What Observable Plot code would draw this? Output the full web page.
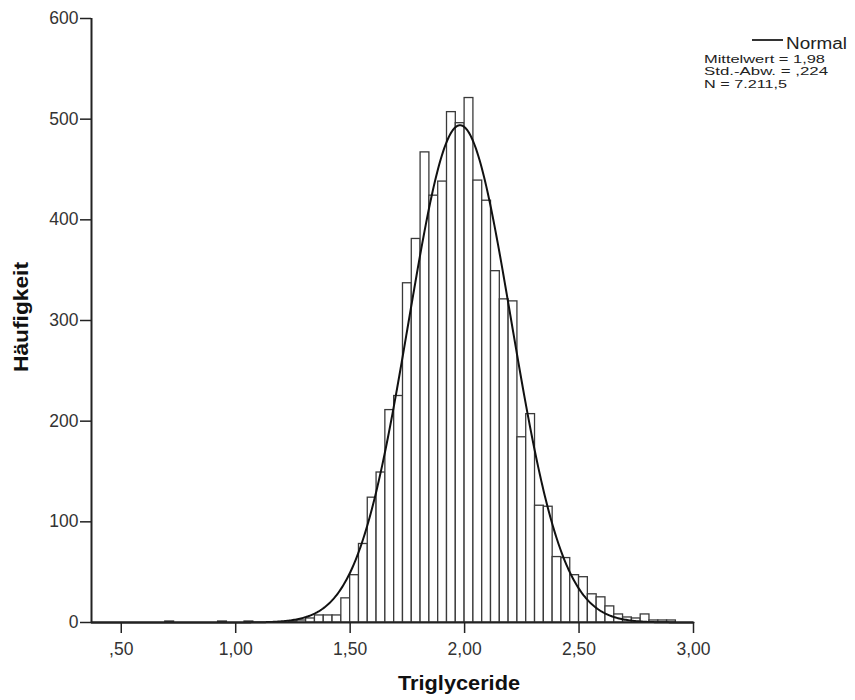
<!DOCTYPE html>
<html><head><meta charset="utf-8">
<script src="https://cdn.jsdelivr.net/npm/d3@7"></script>
<script src="https://cdn.jsdelivr.net/npm/@observablehq/plot@0.6"></script>
<style>body{margin:0;background:#fff} #chart{width:855px;height:700px}</style>
</head><body><div id="chart"></div>
<script>
// Histogram bins (lower edges) and counts
const binStart = [0.6923, 0.9231, 1.0385, 1.2308, 1.2692, 1.3077, 1.3462, 1.3846, 1.4231, 1.4615,
  1.5000, 1.5385, 1.5769, 1.6154, 1.6538, 1.6923, 1.7308, 1.7692, 1.8077, 1.8462,
  1.8846, 1.9231, 1.9615, 2.0000, 2.0385, 2.0769, 2.1154, 2.1538, 2.1923, 2.2308,
  2.2692, 2.3077, 2.3462, 2.3846, 2.4231, 2.4615, 2.5000, 2.5385, 2.5769, 2.6154,
  2.6538, 2.6923, 2.7308, 2.7692, 2.8077, 2.8462, 2.8846];
const counts = [1, 1, 1, 1, 2, 4, 7, 7, 7, 24,
  47, 78, 124, 149, 211, 225, 337, 381, 467, 424,
  438, 507, 496, 521, 439, 419, 349, 321, 319, 184,
  207, 116, 115, 65, 64, 47, 45, 28, 25, 16,
  8, 5, 4, 8, 2, 2, 2];
const binWidth = 0.03846;
const xTicks = [0.5, 1.0, 1.5, 2.0, 2.5, 3.0];
const xTickLabels = [",50", "1,00", "1,50", "2,00", "2,50", "3,00"];
const yTicks = [0, 100, 200, 300, 400, 500, 600];
const xDomain = [0.37, 3.0];
const yDomain = [0, 600];
// Normal curve parameters (from the legend)
const meanVal = 1.98, sdVal = 0.224, nVal = 7211.5;
const legendTitle = "Normal";
const legendLines = ["Mittelwert = 1,98", "Std.-Abw. = ,224", "N = 7.211,5"];
const xLabel = "Triglyceride";
const yLabel = "Häufigkeit";

const bins = binStart.map((s, i) => ({x1: s, x2: s + binWidth, count: counts[i]}));
const peak = nVal * binWidth / (sdVal * Math.sqrt(2 * Math.PI));
const curve = d3.range(xDomain[0], xDomain[1] + 1e-9, 0.005)
  .map(x => ({x, y: peak * Math.exp(-0.5 * ((x - meanVal) / sdVal) ** 2)}));

const font = "'Liberation Sans', Arial, sans-serif";
const plot = Plot.plot({
  width: 855, height: 700,
  marginLeft: 91, marginRight: 162, marginTop: 18, marginBottom: 78,
  style: {fontFamily: font, fontSize: "17.5px", color: "#222", background: "#fff"},
  x: {domain: xDomain, label: null},
  y: {domain: yDomain, label: null},
  marks: [
    Plot.rectY(bins, {x1: "x1", x2: "x2", y: "count", fill: "white", stroke: "#3a3a3a", strokeWidth: 1.3}),
    Plot.line(curve, {x: "x", y: "y", stroke: "#111", strokeWidth: 2}),
    Plot.ruleX([xDomain[0]], {y1: yDomain[0], y2: yDomain[1], stroke: "#222", strokeWidth: 2}),
    Plot.ruleY([0], {x1: xDomain[0], x2: xDomain[1], stroke: "#222", strokeWidth: 2}),
    Plot.axisX({ticks: xTicks, tickFormat: d => xTickLabels[xTicks.indexOf(d)], tickSize: 11, tickPadding: 9, strokeWidth: 1.5, label: null, fill: "#333"}),
    Plot.axisY({ticks: yTicks, tickSize: 11, tickPadding: 2, strokeWidth: 1.5, label: null, fill: "#333"})
  ]
});
document.getElementById("chart").appendChild(plot);

const svg = d3.select(plot);
// axis titles
svg.append("text").text(yLabel)
  .attr("transform", "translate(28,317) rotate(-90)")
  .attr("text-anchor", "middle").attr("font-weight", "bold")
  .attr("font-size", 20).attr("font-family", font).attr("fill", "#111")
  .attr("textLength", 110).attr("lengthAdjust", "spacingAndGlyphs");
svg.append("text").text(xLabel)
  .attr("x", 459).attr("y", 690)
  .attr("text-anchor", "middle").attr("font-weight", "bold")
  .attr("font-size", 20).attr("font-family", font).attr("fill", "#111")
  .attr("textLength", 122).attr("lengthAdjust", "spacingAndGlyphs");
// legend
svg.append("line").attr("x1", 752).attr("x2", 783).attr("y1", 40).attr("y2", 40)
  .attr("stroke", "#333").attr("stroke-width", 2);
svg.append("text").text(legendTitle).attr("x", 786).attr("y", 49)
  .attr("text-anchor", "start")
  .attr("font-size", 16).attr("font-family", font).attr("fill", "#222")
  .attr("textLength", 61).attr("lengthAdjust", "spacingAndGlyphs");
const legendWidths = [121, 124, 83];
legendLines.forEach((t, i) => {
  svg.append("text").text(t).attr("x", 704).attr("y", 62.5 + i * 12.5)
    .attr("text-anchor", "start")
    .attr("font-size", 11.1).attr("font-family", font).attr("fill", "#222")
    .attr("textLength", legendWidths[i]).attr("lengthAdjust", "spacingAndGlyphs");
});
</script></body></html>
